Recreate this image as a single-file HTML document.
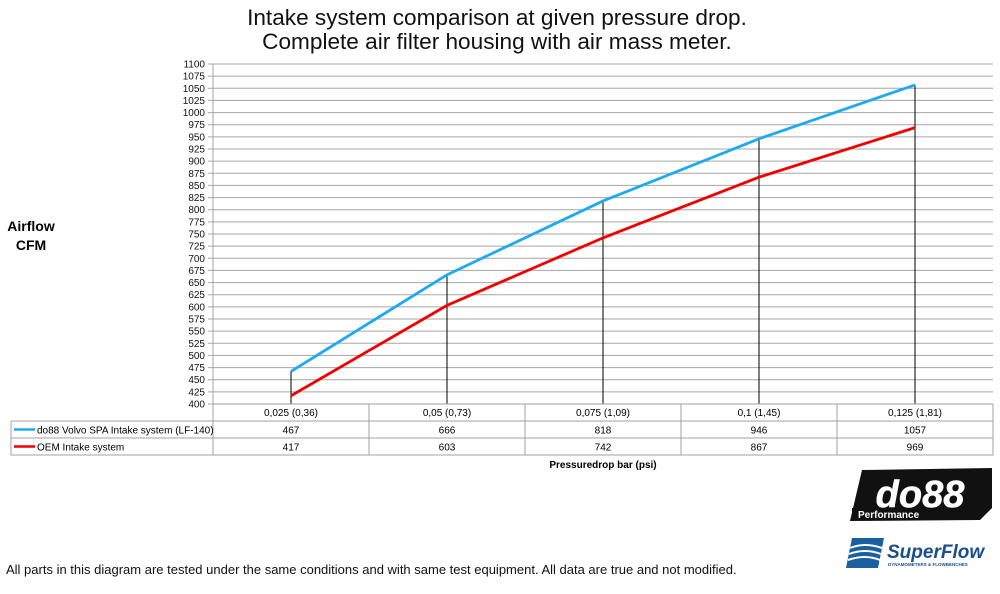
<!DOCTYPE html>
<html><head><meta charset="utf-8">
<style>
body{margin:0;width:1000px;height:589px;background:#fff;overflow:hidden;font-family:"Liberation Sans","DejaVu Sans",sans-serif;}
svg text{font-family:"Liberation Sans","DejaVu Sans",sans-serif;}
</style></head>
<body>
<svg id="chart" width="1000" height="589" viewBox="0 0 1000 589" xmlns="http://www.w3.org/2000/svg">
  <text x="497" y="25" font-size="22.6" text-anchor="middle" fill="#111">Intake system comparison at given pressure drop.</text>
  <text x="497" y="49" font-size="22.6" text-anchor="middle" fill="#111">Complete air filter housing with air mass meter.</text>
  <text x="31" y="231" font-size="14" font-weight="bold" text-anchor="middle">Airflow</text>
  <text x="31" y="250" font-size="14" font-weight="bold" text-anchor="middle">CFM</text>
  <g id="grid"></g>
  <g id="drops"></g>
  <g id="series"></g>
  <g id="table"></g>
  <text x="603" y="468" font-size="10" font-weight="bold" text-anchor="middle">Pressuredrop bar (psi)</text>
  <text x="6" y="574" font-size="13" fill="#111">All parts in this diagram are tested under the same conditions and with same test equipment. All data are true and not modified.</text>
  <g>
    <polygon points="862,470 992,468 992,508 980,520 850,521" fill="#111"/>
    <text x="920" y="507" font-size="38" font-weight="bold" font-style="italic" fill="#fff" text-anchor="middle" stroke="#fff" stroke-width="0.5">do88</text>
    <rect x="852" y="508" width="126" height="11" fill="#111"/>
    <text x="858" y="518" font-size="10" font-weight="bold" fill="#fff">Performance</text>
  </g>
  <g>
    <path d="M852,538 L884,538 L878,568 L846,568 Z" fill="#1a5fa0"/>
    <path d="M850,548 Q865,542 882,548 M849,554 Q865,548 881,554 M848,560 Q865,554 880,560" stroke="#fff" stroke-width="2" fill="none"/>
    <text x="887" y="558" font-size="19" font-weight="bold" font-style="italic" fill="#1a4f8a">SuperFlow</text>
    <text x="888" y="566" font-size="4.5" font-weight="bold" fill="#1a4f8a">DYNAMOMETERS &amp; FLOWBENCHES</text>
  </g>
</svg>
<script>
const categories = ["0,025 (0,36)","0,05 (0,73)","0,075 (1,09)","0,1 (1,45)","0,125 (1,81)"];
const seriesNames = ["do88 Volvo SPA Intake system (LF-140)","OEM Intake system"];
const do88Values = [467,666,818,946,1057];
const oemValues = [417,603,742,867,969];
const seriesColors = ["#1eaaf1","#f00000"];
const yTicks = [400,425,450,475,500,525,550,575,600,625,650,675,700,725,750,775,800,825,850,875,900,925,950,975,1000,1025,1050,1075,1100];

const NS="http://www.w3.org/2000/svg";
const X0=213,X1=993,Y0=404,Y1=64,YMIN=400,YMAX=1100;
const band=(X1-X0)/categories.length;
const xs=i=>X0+band*(i+0.5);
const ys=v=>Y0-(v-YMIN)/(YMAX-YMIN)*(Y0-Y1);
function mk(tag,attrs,parent){const e=document.createElementNS(NS,tag);for(const k in attrs)e.setAttribute(k,attrs[k]);parent.appendChild(e);return e;}

const grid=document.getElementById('grid');
yTicks.forEach(t=>{
  const y=ys(t);
  const l=mk('line',{x1:208,x2:X1,y1:y,y2:y,stroke:'#a6a6a6','stroke-width':1},grid);
  
  
  const tx=mk('text',{x:205,y:y+3.5,'font-size':10,'text-anchor':'end',fill:'#111'},grid);
  tx.textContent=t;
  
  
});
const ax=mk('line',{x1:X0,x2:X0,y1:Y1,y2:Y0,stroke:'#a6a6a6','stroke-width':1},grid);



const drops=document.getElementById('drops');
categories.forEach((c,i)=>{
  const top=Math.max(do88Values[i],oemValues[i]);
  const l=mk('line',{x1:xs(i),x2:xs(i),y1:ys(top),y2:Y0,stroke:'#000','stroke-width':1},drops);
  
  
});

const sg=document.getElementById('series');
[do88Values,oemValues].forEach((vals,s)=>{
  const p=mk('polyline',{points:vals.map((v,i)=>xs(i)+','+ys(v)).join(' '),fill:'none',stroke:seriesColors[s],'stroke-width':2.8},sg);
  
  
});

const tb=document.getElementById('table');
const rowY=[404,421,438,455];
const border='#a0a0a0';
[[X0,X1,rowY[0],rowY[0]],[11,X1,rowY[1],rowY[1]],[11,X1,rowY[2],rowY[2]],[11,X1,rowY[3],rowY[3]],[11,11,rowY[1],rowY[3]]].forEach(a=>{
  mk('line',{x1:a[0],x2:a[1],y1:a[2],y2:a[3],stroke:border,'stroke-width':1},tb);
});
for(let i=0;i<=categories.length;i++){
  mk('line',{x1:X0+band*i,x2:X0+band*i,y1:rowY[0],y2:rowY[3],stroke:border,'stroke-width':1},tb);
}
categories.forEach((c,i)=>{
  const t=mk('text',{x:xs(i),y:416,'font-size':10,'text-anchor':'middle'},tb);
  t.textContent=c;
  
  
});
[do88Values,oemValues].forEach((vals,s)=>{
  const y=rowY[s+1]+12.5;
  const k=mk('line',{x1:14,x2:35,y1:y-4,y2:y-4,stroke:seriesColors[s],'stroke-width':2.5},tb);
  
  
  const n=mk('text',{x:37,y:y,'font-size':10},tb);
  n.textContent=seriesNames[s];
  
  
  vals.forEach((v,i)=>{
    const t=mk('text',{x:xs(i),y:y,'font-size':10,'text-anchor':'middle'},tb);
    t.textContent=v;
    
    
  });
});
</script>
</body></html>
